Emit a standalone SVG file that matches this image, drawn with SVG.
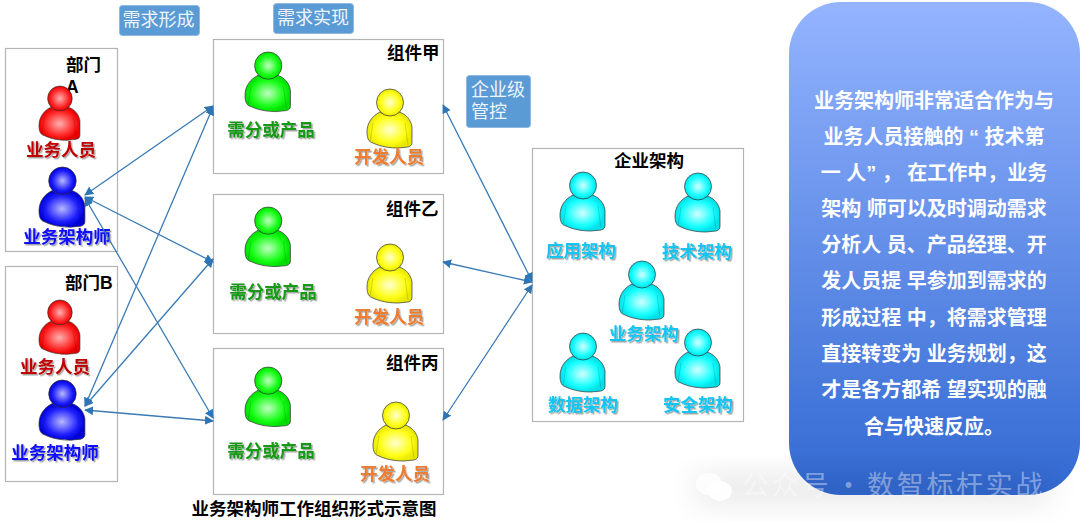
<svg xmlns="http://www.w3.org/2000/svg" width="1080" height="530" viewBox="0 0 1080 530">
<style>
text{font-family:"Liberation Sans","Noto Sans CJK SC",sans-serif}
.box{fill:#fff;stroke:#b4b4b4;stroke-width:1.2}
.t{font-size:17.500px;font-weight:700;fill:#000}
.l{font-size:17.500px;font-weight:700;filter:url(#ts)}
.c{text-anchor:middle}
.red{fill:#c00000}.blue{fill:#0a0aff}.green{fill:#159a15}.org{fill:#ed7d31}.cy{fill:#12c4f2}
.tag{fill:#5b9bd5;stroke:#8fb8e0;stroke-width:1}
.tagt{font-size:18px;fill:#eef5fb}
.con{fill:none;stroke:#3a7ab5;stroke-width:1.3;marker-start:url(#ah);marker-end:url(#ah)}
.p{font-size:20px;font-weight:700;fill:#fff;text-anchor:middle}
.pp{stroke:#333;stroke-width:.7}
</style>
<defs>
<filter id="ts" x="-10%" y="-20%" width="125%" height="150%"><feDropShadow dx="1.5" dy="1.5" stdDeviation=".7" flood-color="#000" flood-opacity=".35"/></filter>
<filter id="blur" x="-30%" y="-100%" width="160%" height="300%"><feGaussianBlur stdDeviation="16"/></filter>
<marker id="ah" viewBox="0 0 10 10" refX="9" refY="5" markerWidth="9" markerHeight="9" orient="auto-start-reverse" markerUnits="userSpaceOnUse"><path d="M0 0L10 5L0 10z" fill="#2e75b6"/></marker>
<radialGradient id="gr"><stop offset="0" stop-color="#ffb0b0"/><stop offset=".75" stop-color="#ff2020"/><stop offset="1" stop-color="#e80000"/></radialGradient>
<radialGradient id="gb"><stop offset="0" stop-color="#b8b8ff"/><stop offset=".7" stop-color="#2020ff"/><stop offset="1" stop-color="#0000d8"/></radialGradient>
<radialGradient id="gg"><stop offset="0" stop-color="#c0ffc0"/><stop offset=".7" stop-color="#18ff18"/><stop offset="1" stop-color="#00e000"/></radialGradient>
<radialGradient id="gy"><stop offset="0" stop-color="#ffffd0"/><stop offset=".7" stop-color="#ffff18"/><stop offset="1" stop-color="#e8e800"/></radialGradient>
<radialGradient id="gc"><stop offset="0" stop-color="#d0ffff"/><stop offset=".7" stop-color="#18ffff"/><stop offset="1" stop-color="#00e0e8"/></radialGradient>
<linearGradient id="panel" x1="0" y1="0" x2="0" y2="1"><stop offset="0" stop-color="#94b4ff"/><stop offset="1" stop-color="#3269d2"/></linearGradient>
<g id="man" class="pp">
<path d="M13 23C5 27 0 34 0 43C0 50 2 53 6 54C14 58 24 59 31 59L41 58C44 57 45 56 45 53L45 38C44 31 39 25 32 23C27 27 18 27 13 23Z"/>
<circle cx="23" cy="13.500" r="13.500"/>
<path d="M6 34L3 53M38 34L41 56" fill="none" stroke="#000" stroke-opacity=".2" stroke-width=".7"/>
</g>
</defs>
<rect width="1080" height="530" fill="#fff"/>

<g id="tags">
<rect class="tag" x="119.500" y="5.500" width="80" height="30" rx="3"/><text class="tagt c" x="158.500" y="26">需求形成</text>
<rect class="tag" x="273.500" y="3.500" width="80" height="30" rx="3"/><text class="tagt c" x="313" y="24">需求实现</text>
<rect class="tag" x="466.500" y="75.500" width="64" height="52" rx="3"/><text class="tagt" x="471" y="96">企业级</text><text class="tagt" x="471" y="118">管控</text>
</g>

<g id="dept-a">
<rect class="box" x="5.500" y="48.500" width="112" height="203"/>
<text class="t" x="66" y="71">部门</text><text class="t" x="66" y="93">A</text>
<use href="#man" transform="translate(39 86) scale(.91 .92)" fill="url(#gr)"/>
<text class="l red c" x="61" y="156">业务人员</text>
<use href="#man" transform="translate(39 167) scale(1.02)" fill="url(#gb)"/>
<text class="l blue c" x="67" y="243">业务架构师</text>
</g>
<g id="dept-b">
<rect class="box" x="5.500" y="266.500" width="112" height="215"/>
<text class="t" x="65" y="289">部门B</text>
<use href="#man" transform="translate(39 300) scale(.91 .92)" fill="url(#gr)"/>
<text class="l red c" x="55" y="373">业务人员</text>
<use href="#man" transform="translate(39 380) scale(1.02)" fill="url(#gb)"/>
<text class="l blue c" x="55" y="459">业务架构师</text>
</g>

<g id="comp-jia">
<rect class="box" x="213.500" y="39.500" width="230" height="134"/>
<text class="t" x="387" y="59">组件甲</text>
<use href="#man" transform="translate(245 52) scale(1.01)" fill="url(#gg)"/>
<text class="l green c" x="271" y="136">需分或产品</text>
<use href="#man" transform="translate(367 89)" fill="url(#gy)"/>
<text class="l org c" x="389" y="163">开发人员</text>
</g>
<g id="comp-yi">
<rect class="box" x="213.500" y="194.500" width="230" height="139"/>
<text class="t" x="386" y="215">组件乙</text>
<use href="#man" transform="translate(245 207) scale(1.01)" fill="url(#gg)"/>
<text class="l green c" x="273" y="298">需分或产品</text>
<use href="#man" transform="translate(367 244)" fill="url(#gy)"/>
<text class="l org c" x="389" y="323">开发人员</text>
</g>
<g id="comp-bing">
<rect class="box" x="213.500" y="348.500" width="230" height="146"/>
<text class="t" x="386" y="369">组件丙</text>
<use href="#man" transform="translate(245 367) scale(1.01)" fill="url(#gg)"/>
<text class="l green c" x="271" y="457">需分或产品</text>
<use href="#man" transform="translate(373 402)" fill="url(#gy)"/>
<text class="l org c" x="395" y="480">开发人员</text>
</g>

<g id="enterprise">
<rect class="box" x="532.500" y="148.500" width="211" height="273"/>
<text class="t c" x="649" y="167">企业架构</text>
<use href="#man" transform="translate(560 172)" fill="url(#gc)"/>
<text class="l cy c" x="581" y="257">应用架构</text>
<use href="#man" transform="translate(675 173)" fill="url(#gc)"/>
<text class="l cy c" x="697" y="258">技术架构</text>
<use href="#man" transform="translate(619 261)" fill="url(#gc)"/>
<text class="l cy c" x="644" y="340">业务架构</text>
<use href="#man" transform="translate(560 333)" fill="url(#gc)"/>
<text class="l cy c" x="583" y="411">数据架构</text>
<use href="#man" transform="translate(675 329)" fill="url(#gc)"/>
<text class="l cy c" x="698" y="411">安全架构</text>
</g>

<g id="connectors">
<path class="con" d="M85 195L213 106"/>
<path class="con" d="M85 197L213 262"/>
<path class="con" d="M85 198L213 418"/>
<path class="con" d="M85 406L213 107"/>
<path class="con" d="M85 406L213 259"/>
<path class="con" d="M85 410L213 421"/>
<path class="con" d="M532 281L443 105"/>
<path class="con" d="M532 282L443 262"/>
<path class="con" d="M532 285L443 420"/>
</g>

<text class="t c" x="314" y="515">业务架构师工作组织形式示意图</text>

<g id="panel-note">
<rect x="789" y="2" width="291" height="493" rx="52" fill="url(#panel)"/>
<text class="p" x="934" y="108">业务架构师非常适合作为与</text>
<text class="p" x="934" y="144">业务人员接触的 “ 技术第</text>
<text class="p" x="934" y="180">一 人” ， 在工作中，业务</text>
<text class="p" x="934" y="216">架构 师可以及时调动需求</text>
<text class="p" x="934" y="252">分析人 员、产品经理、开</text>
<text class="p" x="934" y="288">发人员提 早参加到需求的</text>
<text class="p" x="934" y="325">形成过程 中，将需求管理</text>
<text class="p" x="934" y="361">直接转变为 业务规划，这</text>
<text class="p" x="934" y="397">才是各方都希 望实现的融</text>
<text class="p" x="934" y="434">合与快速反应。</text>
</g>

<g id="watermark">
<rect x="695" y="478" width="355" height="22" fill="#000" opacity=".12" filter="url(#blur)"/>
<ellipse cx="709" cy="484" rx="13" ry="11" fill="#fff" fill-opacity=".8"/>
<ellipse cx="720" cy="491" rx="12" ry="10" fill="#fff" fill-opacity=".9"/>
<text y="495" font-size="27" fill="#fff" fill-opacity=".4" style="font-family:'Noto Sans CJK SC',sans-serif;letter-spacing:2.700px"><tspan x="742">公众号</tspan></text>
<text x="835" y="495" font-size="27" fill="#fff" fill-opacity=".4" style="font-family:'Noto Sans CJK SC',sans-serif">·</text>
<text x="867" y="495" font-size="27" fill="#fff" fill-opacity=".4" style="font-family:'Noto Sans CJK SC',sans-serif;letter-spacing:2.700px">数智标杆实战</text>
</g>
</svg>
